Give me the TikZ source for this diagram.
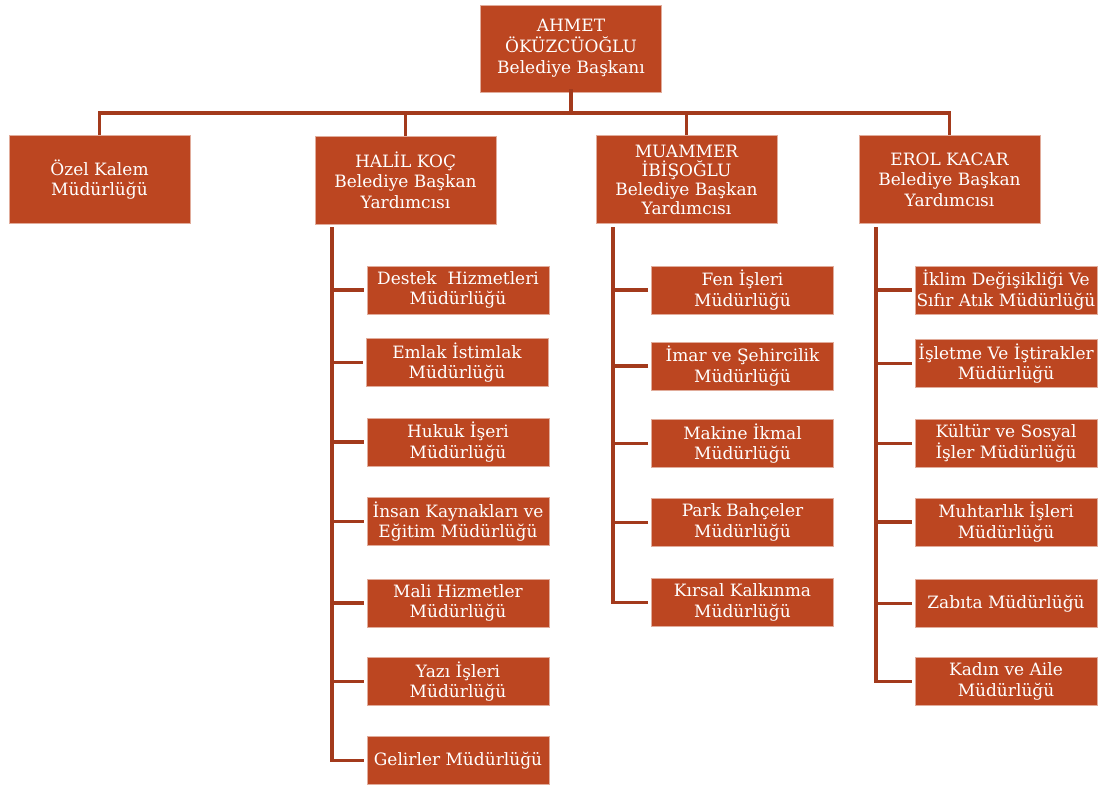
\documentclass[tikz,border=0pt]{standalone}
\usepackage{fontspec}
\setmainfont{DejaVu Serif}
\definecolor{boxfill}{RGB}{188,70,33}
\definecolor{linec}{RGB}{163,58,28}
\begin{document}
\begin{tikzpicture}[x=1pt,y=-1pt,
  box/.style={rectangle, fill=boxfill, draw=boxfill!45!white, line width=0.6pt,
    text=white, align=center, font=\fontsize{17}{20.5}\selectfont, inner sep=0pt},
  big/.style={box, minimum width=181pt, minimum height=88pt},
  small/.style={box, minimum width=182pt, minimum height=48pt},
  conn/.style={draw=linec, line width=3.8pt}]
\useasboundingbox (0,0) rectangle (1099,784);

% top
\node[big, minimum height=87pt, font=\fontsize{17}{21}\selectfont] (top) at (571,48.5) {AHMET\\ÖKÜZCÜOĞLU\\Belediye Başkanı};
% level 2
\node[big] (ozel) at (99.5,179.5) {Özel Kalem\\Müdürlüğü};
\node[big] (halil) at (405.5,180) {HALİL KOÇ\\Belediye Başkan\\Yardımcısı};
\node[big, font=\fontsize{17}{19}\selectfont] (muam) at (686.5,179.5) {MUAMMER\\İBİŞOĞLU\\Belediye Başkan\\Yardımcısı};
\node[big] (erol) at (949.5,179.5) {EROL KACAR\\Belediye Başkan\\Yardımcısı};

% bus
\coordinate (bus) at (571,113);
\draw[conn] ([yshift=3pt]top.south) -- (bus);
\draw[conn] (ozel.north) -- (ozel.north |- bus) -- (erol.north |- bus) -- (erol.north);
\draw[conn] (halil.north) -- (halil.north |- bus);
\draw[conn] (muam.north) -- (muam.north |- bus);

% HALIL children
\node[small] (h1) at (458,290) {Destek\ \ Hizmetleri\\Müdürlüğü};
\node[small] (h2) at (457,362.5) {Emlak İstimlak\\Müdürlüğü};
\node[small] (h3) at (458,442) {Hukuk İşeri\\Müdürlüğü};
\node[small] (h4) at (458,521.5) {İnsan Kaynakları ve\\Eğitim Müdürlüğü};
\node[small] (h5) at (458,603) {Mali Hizmetler\\Müdürlüğü};
\node[small] (h6) at (458,681.5) {Yazı İşleri\\Müdürlüğü};
\node[small] (h7) at (458,760.5) {Gelirler Müdürlüğü};
\coordinate (hs) at (332,227);
\draw[conn] (hs) |- ([xshift=-3pt]h7.west);
\foreach \n in {h1,h2,h3,h4,h5,h6}{\draw[conn] ([xshift=-3pt]\n.west) -- (\n.west -| hs);}

% MUAMMER children
\node[small] (m1) at (742.5,290) {Fen İşleri\\Müdürlüğü};
\node[small] (m2) at (742.5,366) {İmar ve Şehircilik\\Müdürlüğü};
\node[small] (m3) at (742.5,443.5) {Makine İkmal\\Müdürlüğü};
\node[small] (m4) at (742.5,522.5) {Park Bahçeler\\Müdürlüğü};
\node[small] (m5) at (742.5,602.5) {Kırsal Kalkınma\\Müdürlüğü};
\coordinate (ms) at (613,227);
\draw[conn] (ms) |- ([xshift=-3pt]m5.west);
\foreach \n in {m1,m2,m3,m4}{\draw[conn] ([xshift=-3pt]\n.west) -- (\n.west -| ms);}

% EROL children
\node[small] (e1) at (1006,290) {İklim Değişikliği Ve\\Sıfır Atık Müdürlüğü};
\node[small] (e2) at (1006,363.5) {İşletme Ve İştirakler\\Müdürlüğü};
\node[small] (e3) at (1006,443.5) {Kültür ve Sosyal\\İşler Müdürlüğü};
\node[small] (e4) at (1006,522) {Muhtarlık İşleri\\Müdürlüğü};
\node[small] (e5) at (1006,603.5) {Zabıta Müdürlüğü};
\node[small] (e6) at (1006,681.5) {Kadın ve Aile\\Müdürlüğü};
\coordinate (es) at (876,227);
\draw[conn] (es) |- ([xshift=-3pt]e6.west);
\foreach \n in {e1,e2,e3,e4,e5}{\draw[conn] ([xshift=-3pt]\n.west) -- (\n.west -| es);}
\end{tikzpicture}
\end{document}
